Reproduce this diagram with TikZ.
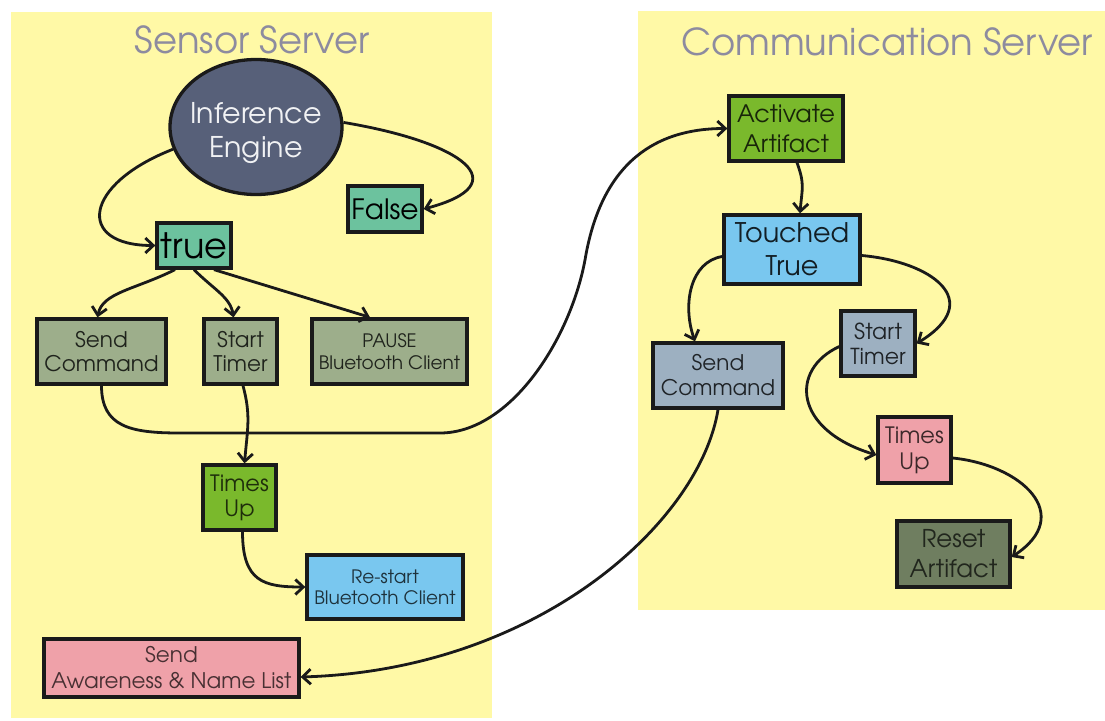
\documentclass[tikz,border=0pt]{standalone}
\usepackage{fontspec}
\setmainfont{TeX Gyre Adventor}
\usetikzlibrary{arrows.meta,shapes.geometric}

\definecolor{panel}{HTML}{FFF9A6}
\definecolor{titlegray}{HTML}{8D8B9F}
\definecolor{engine}{HTML}{576079}
\definecolor{tealbox}{HTML}{6CC29E}
\definecolor{sagebox}{HTML}{9DAE8B}
\definecolor{limebox}{HTML}{7AB92C}
\definecolor{skybox}{HTML}{79C7EF}
\definecolor{pinkbox}{HTML}{EFA1A9}
\definecolor{steelbox}{HTML}{9DB0C1}
\definecolor{olivebox}{HTML}{6F7E60}
\definecolor{edgeink}{HTML}{1A1A1A}

\newcommand\fsz[2]{\fontsize{#1}{#2}\selectfont}

\tikzset{
  panelbg/.style={fill=panel},
  paneltitle/.style={text=titlegray, anchor=base, inner sep=0pt, font=\fsz{37}{40}},
  box/.style={draw=edgeink, line width=3.3pt, inner sep=0pt, align=center},
  flow/.style={draw=edgeink, line width=2.8pt, -{Straight Barb[length=8pt,width=15pt]}},
}

\begin{document}
\begin{tikzpicture}[x=1pt,y=-1pt]
\useasboundingbox (0,0) rectangle (1105,720);
\fill[white] (0,0) rectangle (1105,720);

% server panels
\fill[panelbg] (11,12) rectangle (492,718);
\fill[panelbg] (638,11) rectangle (1105,610);
\node[paneltitle] (ttlS) at (252,53) {Sensor Server};
\node[paneltitle] (ttlC) at (887,55) {Communication Server};

% sensor server
\node[ellipse, draw=edgeink, line width=3.3pt, fill=engine,
      minimum width=172pt, minimum height=135pt, inner sep=0pt] (ie) at (256,127) {};
\node[text=white!92!engine, align=center, inner sep=0pt, font=\fsz{28.5}{34}]
      (ieText) at ([yshift=-6pt]ie.center) {Inference\\Engine};
\node[box, fill=tealbox, text=black, minimum width=74pt, minimum height=46pt,
      font=\fsz{28}{31}] (false) at (385,209) {False};
\node[box, fill=tealbox, text=black, minimum width=74pt, minimum height=45pt,
      font=\fsz{35}{38}] (true) at (194,245.5) {true};
\node[box, fill=sagebox, text=black!80!sagebox, minimum width=129pt, minimum height=65pt,
      font=\fsz{21.5}{24}] (sc1) at (101.5,351.5) {Send\\Command};
\node[box, fill=sagebox, text=black!80!sagebox, minimum width=73pt, minimum height=65pt,
      font=\fsz{21.5}{24}] (st1) at (240.5,351.5) {Start\\Timer};
\node[box, fill=sagebox, text=black!80!sagebox, minimum width=155pt, minimum height=65pt,
      font=\fsz{18.5}{22}] (pause) at (389.5,351.5) {PAUSE\\Bluetooth Client};
\node[box, fill=limebox, text=black!75!limebox, minimum width=73pt, minimum height=65pt,
      font=\fsz{22.5}{25}] (tu1) at (239.5,497.5) {Times\\Up};
\node[box, fill=skybox, text=black!75!skybox, minimum width=156pt, minimum height=64pt,
      font=\fsz{18.5}{21}] (rs) at (385,587) {Re-start\\Bluetooth Client};
\node[box, fill=pinkbox, text=black!70!pinkbox, minimum width=255pt, minimum height=58pt,
      font=\fsz{21.5}{26}] (saw) at (171.5,668) {Send\\Awareness \& Name List};

% communication server
\node[box, fill=limebox, text=black!80!limebox, minimum width=114pt, minimum height=65pt,
      font=\fsz{24}{30}] (act) at (786,128.5) {Activate\\Artifact};
\node[box, fill=skybox, text=black!85!skybox, minimum width=136pt, minimum height=69pt,
      font=\fsz{27}{33}] (touch) at (792,249.5) {Touched\\True};
\node[box, fill=steelbox, text=black!80!steelbox, minimum width=74pt, minimum height=65pt,
      font=\fsz{22}{25}] (st2) at (878,343.5) {Start\\Timer};
\node[box, fill=steelbox, text=black!80!steelbox, minimum width=130pt, minimum height=65pt,
      font=\fsz{21.5}{25}] (sc2) at (718,375.5) {Send\\Command};
\node[box, fill=pinkbox, text=black!75!pinkbox, minimum width=73pt, minimum height=66pt,
      font=\fsz{22.5}{26}] (tu2) at (914.5,450) {Times\\Up};
\node[box, fill=olivebox, text=black!70!olivebox, minimum width=113pt, minimum height=66pt,
      font=\fsz{24.5}{30}] (reset) at (953.5,554) {Reset\\Artifact};

% waypoints of the long link into the communication server
\coordinate (wA) at (180,433);
\coordinate (wB) at (440,433);
\coordinate (wC) at (585,260);

% connectors
\draw[flow] (ie.195) .. controls +(-90,35) and +(-80,0) .. (true.west);
\draw[flow] (ie.3) .. controls +(120,20) and +(95,-25) .. (false.east);
\draw[flow] ([xshift=-19pt]true.south) .. controls +(-40,20) and +(5,-25) .. ([xshift=-4pt]sc1.north);
\draw[flow] (true.south) .. controls +(20,20) and +(-3,-20) .. ([xshift=-7pt]st1.north);
\draw[flow] ([xshift=20pt]true.south) -- ([xshift=-19.5pt]pause.north);
\draw[flow] (sc1.south) .. controls +(0,41) and +(-50,0) .. (wA) -- (wB)
  .. controls +(70,0) and +(-15,80) .. (wC)
  .. controls +(15,-90) and +(-79,0) .. (act.west);
\draw[flow] ([xshift=2.5pt]st1.south) .. controls +(8,30) and +(3,-35) .. ([xshift=5pt]tu1.north);
\draw[flow] ([xshift=3pt]tu1.south) .. controls +(0,50) and +(-42,0) .. (rs.west);

\draw[flow] ([xshift=11pt]act.south) .. controls +(8,22) and +(2,-25) .. ([xshift=8pt]touch.north);
\draw[flow] ([yshift=-7pt]touch.west) .. controls +(-32,5) and +(-13,-37) .. ([xshift=-23pt]sc2.north);
\draw[flow] ([yshift=-6pt]touch.east) .. controls +(69,6) and +(70,-43) .. (st2.east);
\draw[flow] ([yshift=-3pt]st2.west) .. controls +(-50,23) and +(-83,-25) .. ([yshift=-5pt]tu2.west);
\draw[flow] ([yshift=-8pt]tu2.east) .. controls +(69,7) and +(64,-42) .. ([yshift=-3pt]reset.east);
\draw[flow] (sc2.south) .. controls +(-18,112) and +(238,-7) .. ([yshift=-9pt]saw.east);
\end{tikzpicture}
\end{document}
